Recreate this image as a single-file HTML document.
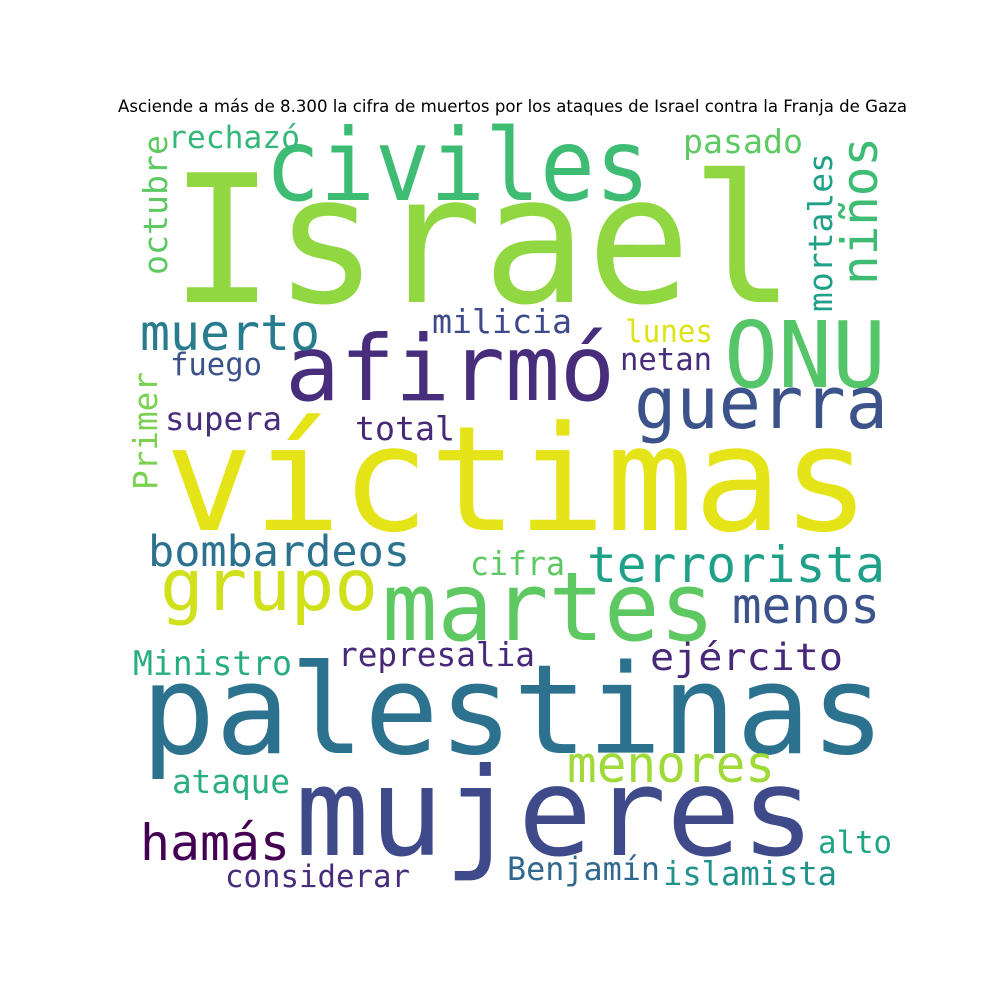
<!DOCTYPE html>
<html><head><meta charset="utf-8"><style>
html,body{margin:0;padding:0;background:#fff;}
svg{display:block;}
.w{font-family:"DejaVu Sans Mono","Liberation Mono",monospace;}
</style></head><body>
<svg id="cloud" width="1000" height="1000" viewBox="0 0 1000 1000" xmlns="http://www.w3.org/2000/svg">
<rect width="1000" height="1000" fill="#fff"/>
<text x="118" y="112" font-family="DejaVu Sans, Liberation Sans, sans-serif" font-size="16.5" textLength="789" lengthAdjust="spacingAndGlyphs" fill="#000">Asciende a más de 8.300 la cifra de muertos por los ataques de Israel contra la Franja de Gaza</text>
<g id="words"></g>
</svg>
<script>
const words = ["Israel","civiles","víctimas","palestinas","mujeres","afirmó","ONU","guerra","grupo","martes","muerto","terrorista","menos","bombardeos","menores","hamás","ejército","represalia","Ministro","cifra","ataque","considerar","Benjamín","islamista","alto","total","supera","fuego","milicia","netan","lunes","rechazó","pasado","octubre","Primer","mortales","niños"];
const colors = ["#91d742","#3fbc73","#e5e419","#2c728e","#3e4a89","#472d7b","#54c568","#3b528b","#d0e11c","#5ec962","#287c8e","#1fa088","#3b528b","#2c728e","#a0da39","#440154","#482878","#482878","#27ad81","#5ec962","#29af7f","#472d7b","#31688e","#21918c","#20a486","#482878","#472d7b","#3b528b","#3e4a89","#472d7b","#dde318","#35b779","#5ec962","#5ec962","#7ad151","#1fa088","#3fbc73"];
// layout: x, baseline y, font size, text length, rotated
const layout = [
[170,302,178,625,0],[265,200,100,385,0],[165,530,146,705,0],[141,753,124,744,0],
[295,855,122,520,0],[285,400,91,330,0],[724,387,92,162,0],[634,428,72,254,0],
[160,610,71,218,0],[382,640,95,333,0],[140,350,50,180,0],[587,582,50,298,0],
[732,623,50,148,0],[148,566,43,262,0],[567,782,51,208,0],[140,860,50,150,0],
[650,670,37,193,0],[338,666,33,197,0],[133,675,34,159,0],[470,575,33,95,0],
[172,793,33,118,0],[225,887,31,185,0],[507,880,32,153,0],[663,885,33,174,0],
[818,853,31,74,0],[355,440,33,100,0],[165,430,32,117,0],[170,375,31,92,0],
[432,333,33,140,0],[620,370,31,92,0],[625,342,31,88,0],[168,148,31,132,0],
[683,153,33,120,0],
[167,275,33,140,1],[157,490,33,118,1],[832,312,33,159,1],[877,285,50,148,1]
];
const g = document.getElementById('words');
const NS = "http://www.w3.org/2000/svg";
words.forEach((w,i)=>{
  const [x,y,fs,len,rot] = layout[i];
  const t = document.createElementNS(NS,'text');
  
  
  t.setAttribute('class','w');
  t.setAttribute('font-size', fs);
  t.setAttribute('fill', colors[i]);
  t.setAttribute('textLength', len);
  t.setAttribute('lengthAdjust','spacingAndGlyphs');
  if (rot) {
    t.setAttribute('x', 0); t.setAttribute('y', 0);
    t.setAttribute('transform', `translate(${x},${y}) rotate(-90)`);
  } else {
    t.setAttribute('x', x); t.setAttribute('y', y);
  }
  t.textContent = w;
  g.appendChild(t);
});
</script>
</body></html>
